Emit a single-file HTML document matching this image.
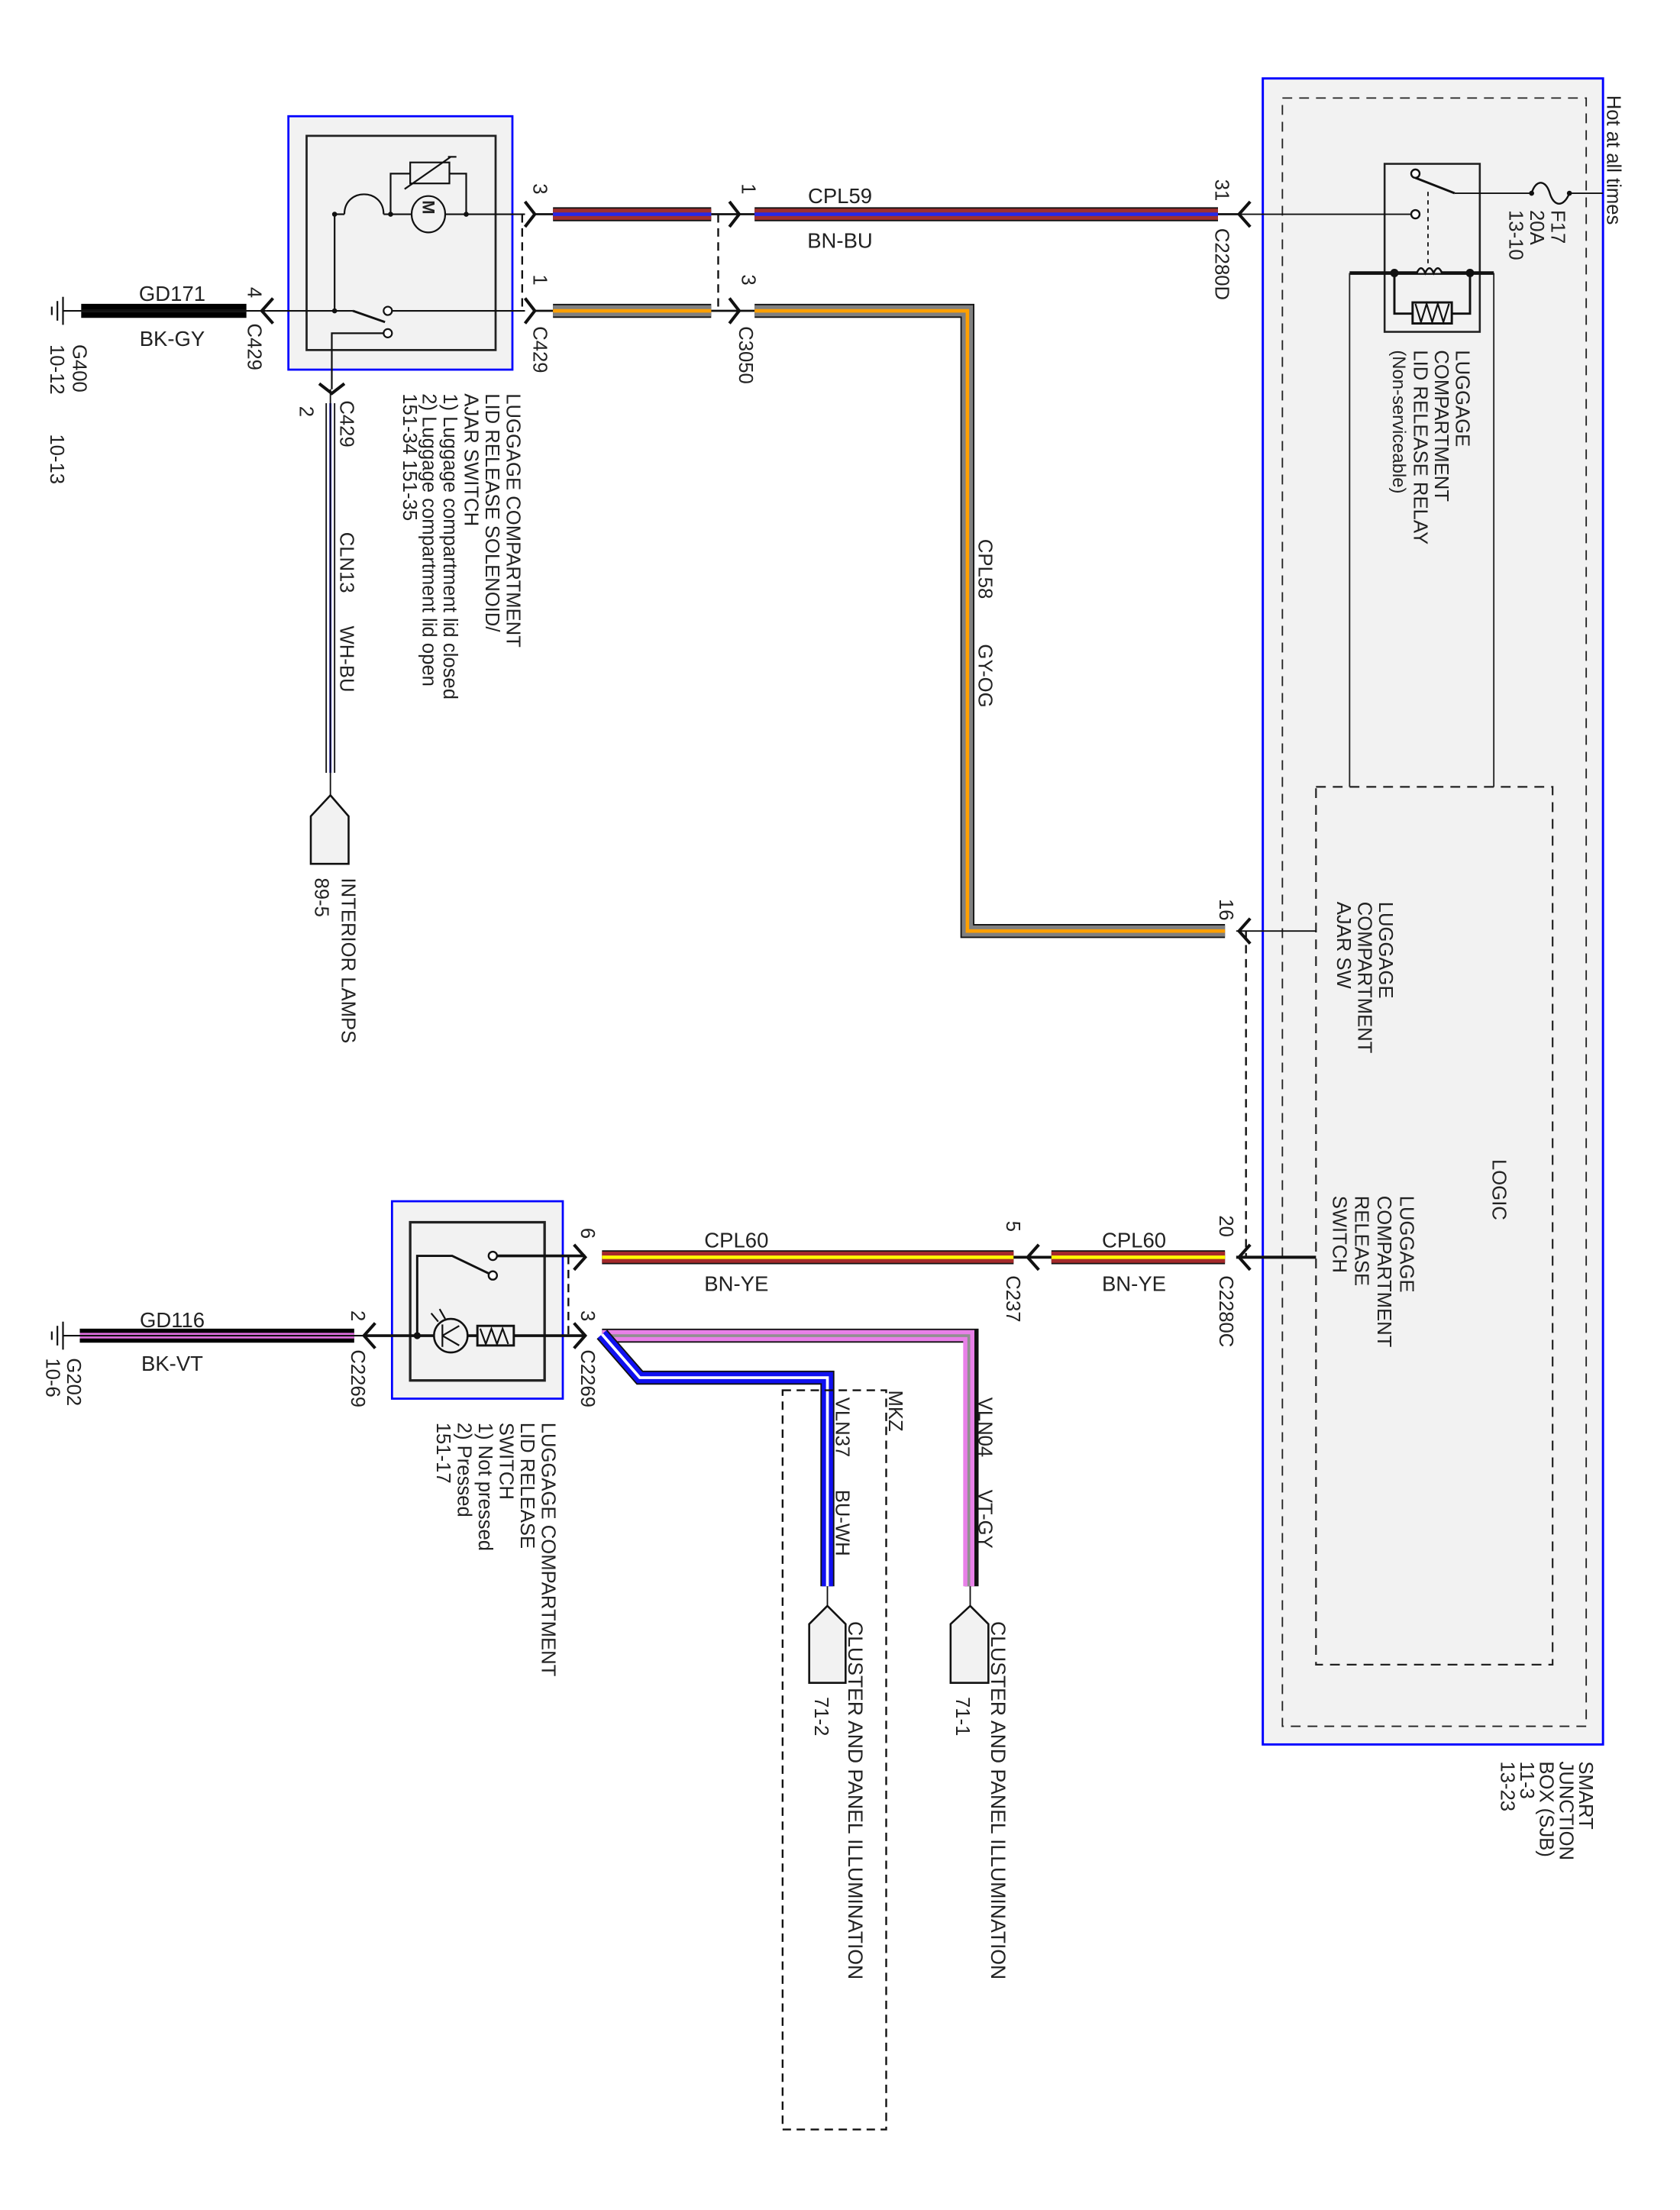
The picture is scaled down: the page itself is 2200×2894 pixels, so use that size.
<!DOCTYPE html>
<html><head><meta charset="utf-8"><style>
html,body{margin:0;padding:0;background:#fff}
svg{display:block}
text{font-family:"Liberation Sans",Arial,sans-serif;fill:#222}
</style></head><body>
<svg width="2200" height="2894" viewBox="0 0 1200 1578.5" xmlns="http://www.w3.org/2000/svg">
<rect width="1200" height="1578.5" fill="#fff"/>

<!-- SJB -->
<rect x="902" y="56" width="243" height="1190" fill="#f2f2f2" stroke="#0000ff" stroke-width="1.6"/>
<rect x="916" y="70" width="217" height="1163" fill="none" stroke="#222" stroke-width="1" stroke-dasharray="7,5"/>
<rect x="940" y="562" width="169" height="627" fill="none" stroke="#222" stroke-width="1.2" stroke-dasharray="7,5"/>
<!-- relay -->
<rect x="989" y="117" width="68" height="120" fill="none" stroke="#222" stroke-width="1.4"/>
<line x1="964" y1="195" x2="1067" y2="195" stroke="#111" stroke-width="2.5"/>
<line x1="964" y1="195" x2="964" y2="562" stroke="#222" stroke-width="1"/>
<line x1="1067" y1="195" x2="1067" y2="562" stroke="#222" stroke-width="1"/>
<circle cx="996" cy="195" r="3" fill="#111"/><circle cx="1050" cy="195" r="3" fill="#111"/>
<path d="M1012 195 q3 -7 6 0 q3 -7 6 0 q3 -7 6 0" fill="#f2f2f2" stroke="#111" stroke-width="1.4"/>
<path d="M996 195 V224 H1050 V195" fill="none" stroke="#111" stroke-width="1.6"/>
<rect x="1009" y="216" width="28" height="15" fill="#f2f2f2" stroke="#111" stroke-width="1.6"/>
<path d="M1011 217 l4 13 l4 -13 l4 13 l4 -13 l4 13 l4 -13" fill="none" stroke="#111" stroke-width="1.2"/>
<circle cx="1011" cy="124" r="3" fill="#fff" stroke="#111" stroke-width="1.3"/>
<line x1="1011" y1="127" x2="1039" y2="138" stroke="#111" stroke-width="1.6"/>
<circle cx="1011" cy="153" r="3" fill="#fff" stroke="#111" stroke-width="1.3"/>
<line x1="1020" y1="137" x2="1020" y2="190" stroke="#111" stroke-width="1" stroke-dasharray="3,3"/>
<line x1="1039" y1="138" x2="1094" y2="138" stroke="#111" stroke-width="1"/>
<path d="M1094 138 c3 -10 10 -10 13 0 c3 10 10 10 14 0" fill="none" stroke="#111" stroke-width="1.3"/>
<circle cx="1094" cy="138" r="1.8" fill="#111"/><circle cx="1121" cy="138" r="1.8" fill="#111"/>
<line x1="1121" y1="138" x2="1145" y2="138" stroke="#111" stroke-width="1"/>
<line x1="883" y1="153" x2="1008" y2="153" stroke="#111" stroke-width="1"/>
<line x1="883" y1="665" x2="940" y2="665" stroke="#111" stroke-width="1"/>
<line x1="883" y1="898" x2="940" y2="898" stroke="#111" stroke-width="2.2"/>
<line x1="890" y1="665" x2="890" y2="898" stroke="#111" stroke-width="1.3" stroke-dasharray="6,4"/>

<!-- SJB texts -->
<g font-size="14">
<text transform="translate(1148,68) rotate(90)">Hot at all times</text>
<text transform="translate(1108,150) rotate(90)">F17</text>
<text transform="translate(1093,150) rotate(90)">20A</text>
<text transform="translate(1078,150) rotate(90)">13-10</text>
<text transform="translate(1040,250) rotate(90)">LUGGAGE</text>
<text transform="translate(1025,250) rotate(90)">COMPARTMENT</text>
<text transform="translate(1010,250) rotate(90)">LID RELEASE RELAY</text>
<text transform="translate(995,250) rotate(90)" font-size="13">(Non-serviceable)</text>
<text transform="translate(985,644) rotate(90)">LUGGAGE</text>
<text transform="translate(970,644) rotate(90)">COMPARTMENT</text>
<text transform="translate(955,644) rotate(90)">AJAR SW</text>
<text transform="translate(1066,828) rotate(90)">LOGIC</text>
<text transform="translate(1000,854) rotate(90)">LUGGAGE</text>
<text transform="translate(984,854) rotate(90)">COMPARTMENT</text>
<text transform="translate(968,854) rotate(90)">RELEASE</text>
<text transform="translate(952,854) rotate(90)">SWITCH</text>
<text transform="translate(1128,1258) rotate(90)">SMART</text>
<text transform="translate(1114,1258) rotate(90)">JUNCTION</text>
<text transform="translate(1100,1258) rotate(90)">BOX (SJB)</text>
<text transform="translate(1086,1258) rotate(90)">11-3</text>
<text transform="translate(1072,1258) rotate(90)">13-23</text>
</g>

<!-- TOP COMPONENT -->
<rect x="206" y="83" width="160" height="181" fill="#f2f2f2" stroke="#0000ff" stroke-width="1.5"/>
<rect x="219" y="97" width="135" height="153" fill="none" stroke="#222" stroke-width="1.5"/>
<g stroke="#111" stroke-width="1.2" fill="none">
<line x1="239" y1="153" x2="239" y2="222"/>
<line x1="239" y1="153" x2="246" y2="153"/>
<path d="M246 153 C246 134 274 134 274 153"/>
<line x1="274" y1="153" x2="375" y2="153"/>
<path d="M279 153 V124 H293 M321 124 H333 V153"/>
<rect x="293" y="116" width="28" height="15"/>
<line x1="289" y1="135" x2="322" y2="112"/>
<line x1="320" y1="112" x2="326" y2="112"/>
<ellipse cx="306" cy="153" rx="12" ry="13" fill="#f2f2f2"/>
<line x1="190" y1="222" x2="252" y2="222"/>
<line x1="252" y1="222" x2="275" y2="230" stroke-width="1.6"/>
<line x1="280" y1="222" x2="375" y2="222"/>
<path d="M277 238 H237 V278"/>
</g>
<circle cx="239" cy="153" r="1.8" fill="#111"/><circle cx="279" cy="153" r="1.8" fill="#111"/><circle cx="333" cy="153" r="1.8" fill="#111"/>
<circle cx="239" cy="222" r="1.8" fill="#111"/>
<circle cx="277" cy="222" r="3" fill="#fff" stroke="#111" stroke-width="1.2"/>
<circle cx="277" cy="238" r="3" fill="#fff" stroke="#111" stroke-width="1.2"/>
<text transform="translate(302,148) rotate(90)" font-size="12" font-weight="bold" text-anchor="middle">M</text>

<!-- connectors -->
<g stroke="#111" stroke-width="2.2" fill="none">
<path d="M375 144 L382 153 L375 162"/>
<path d="M521 144 L528 153 L521 162"/>
<path d="M375 213 L382 222 L375 231"/>
<path d="M521 213 L528 222 L521 231"/>
<path d="M893 144 L885 153 L893 162"/>
<path d="M893 656 L885 665 L893 674"/>
<path d="M893 889 L885 898 L893 907"/>
<path d="M742 889 L734 898 L742 907"/>
<path d="M410 889 L418 898 L410 907"/>
<path d="M410 945 L418 954 L410 963"/>
<path d="M268 945 L260 954 L268 963"/>
<path d="M195 213 L187 222 L195 231"/>
<path d="M228 274 L237 281 L246 274"/>
</g>
<line x1="382" y1="153" x2="395" y2="153" stroke="#111" stroke-width="1.5"/>
<line x1="382" y1="222" x2="395" y2="222" stroke="#111" stroke-width="1.5"/>
<line x1="508" y1="153" x2="539" y2="153" stroke="#111" stroke-width="1.5"/>
<line x1="508" y1="222" x2="539" y2="222" stroke="#111" stroke-width="1.5"/>
<line x1="870" y1="153" x2="885" y2="153" stroke="#111" stroke-width="1.5"/>
<line x1="373" y1="153" x2="373" y2="222" stroke="#111" stroke-width="1.3" stroke-dasharray="6,4"/>
<line x1="513" y1="153" x2="513" y2="222" stroke="#111" stroke-width="1.3" stroke-dasharray="6,4"/>

<!-- colored wires -->
<g fill="none" stroke-linejoin="miter">
<path d="M395 153 H508 M539 153 H870" stroke="#111" stroke-width="10"/>
<path d="M395 153 H508 M539 153 H870" stroke="#a03030" stroke-width="8"/>
<path d="M395 153 H508 M539 153 H870" stroke="#2828e8" stroke-width="2.5"/>
<path d="M395 222 H508" stroke="#111" stroke-width="10"/>
<path d="M395 222 H508" stroke="#808080" stroke-width="8"/>
<path d="M395 222 H508" stroke="#ffa000" stroke-width="2.5"/>
<path d="M539 222 H691 V665 H875" stroke="#111" stroke-width="10"/>
<path d="M539 222 H691 V665 H875" stroke="#808080" stroke-width="8"/>
<path d="M539 222 H691 V665 H875" stroke="#ffa000" stroke-width="2.5"/>
<path d="M58 222 H176" stroke="#000" stroke-width="10"/>
<path d="M58 222 H176" stroke="#888" stroke-width="1.3"/>
<line x1="45" y1="222" x2="190" y2="222" stroke="#111" stroke-width="1.2"/>
<path d="M236 288 V552" stroke="#111" stroke-width="7"/>
<path d="M236 288 V552" stroke="#fff" stroke-width="5"/>
<path d="M236 288 V552" stroke="#2020f0" stroke-width="1.5"/>
<line x1="236" y1="278" x2="236" y2="568" stroke="#111" stroke-width="1"/>
<path d="M430 898 H724 M751 898 H875" stroke="#111" stroke-width="10"/>
<path d="M430 898 H724 M751 898 H875" stroke="#a52a2a" stroke-width="8"/>
<path d="M430 898 H724 M751 898 H875" stroke="#ffff00" stroke-width="2.5"/>
<line x1="724" y1="898" x2="751" y2="898" stroke="#111" stroke-width="2"/>
<path d="M57 954 H253" stroke="#000" stroke-width="10"/>
<path d="M57 954 H253" stroke="#e070e0" stroke-width="4"/>
<line x1="45" y1="954" x2="260" y2="954" stroke="#111" stroke-width="1.2"/>
<path d="M430 954 H694 V1133" stroke="#111" stroke-width="10"/>
<path d="M430 954 H692 V1133" stroke="#e880e8" stroke-width="8"/>
<path d="M430 954 H692 V1133" stroke="#909090" stroke-width="2"/>
<path d="M430 953 L457 984 H591 V1133" stroke="#111" stroke-width="10"/>
<path d="M430 953 L457 984 H591 V1133" stroke="#1010f0" stroke-width="8"/>
<path d="M430 953 L457 984 H591 V1133" stroke="#fff" stroke-width="2"/>
</g>
<line x1="693" y1="1133" x2="693" y2="1148" stroke="#111" stroke-width="1"/>
<line x1="591" y1="1133" x2="591" y2="1148" stroke="#111" stroke-width="1"/>

<!-- grounds -->
<g stroke="#111" stroke-width="1.2">
<line x1="45" y1="212" x2="45" y2="232"/><line x1="41" y1="215" x2="41" y2="229"/><line x1="37" y1="219" x2="37" y2="225"/>
<line x1="45" y1="944" x2="45" y2="964"/><line x1="41" y1="947" x2="41" y2="961"/><line x1="37" y1="951" x2="37" y2="957"/>
</g>

<!-- bottom component -->
<rect x="280" y="858" width="122" height="141" fill="#f2f2f2" stroke="#0000ff" stroke-width="1.5"/>
<rect x="293" y="873" width="96" height="113" fill="none" stroke="#222" stroke-width="1.8"/>
<g stroke="#111" fill="none">
<path d="M298 954 V897 H323 L350 910" stroke-width="1.6"/>
<line x1="352" y1="897" x2="418" y2="897" stroke-width="2"/>
<line x1="260" y1="954" x2="418" y2="954" stroke-width="2"/>
<circle cx="322" cy="954" r="12" fill="#f2f2f2" stroke-width="1.4"/>
<path d="M316 946 V962 M316 954 L328 947 M316 954 L328 961" stroke-width="1.2"/>
<path d="M313 944 l-5 -6 M318 942 l-4 -7" stroke-width="1.2"/>
<rect x="341" y="947" width="26" height="14" fill="#f2f2f2" stroke-width="1.6"/>
<path d="M343 949 l4 11 l4 -11 l4 11 l4 -11 l4 11" stroke-width="1.2"/>
</g>
<circle cx="298" cy="954" r="2.5" fill="#111"/>
<circle cx="352" cy="897" r="3" fill="#fff" stroke="#111" stroke-width="1.3"/>
<circle cx="352" cy="911" r="3" fill="#fff" stroke="#111" stroke-width="1.3"/>
<line x1="406" y1="897" x2="406" y2="954" stroke="#111" stroke-width="1.3" stroke-dasharray="6,4"/>

<rect x="559" y="993" width="74" height="528" fill="none" stroke="#111" stroke-width="1.3" stroke-dasharray="6,4"/>

<g fill="#f2f2f2" stroke="#111" stroke-width="1.4">
<path d="M236 568 L249 583 V617 H222 V583 Z"/>
<path d="M693 1147 L706 1160 V1202 H679 V1160 Z"/>
<path d="M591 1147 L604 1160 V1202 H578 V1160 Z"/>
</g>

<g font-size="15" text-anchor="middle">
<text x="600" y="145">CPL59</text>
<text x="600" y="177">BN-BU</text>
<text x="123" y="215">GD171</text>
<text x="123" y="247">BK-GY</text>
<text x="526" y="891">CPL60</text>
<text x="526" y="922">BN-YE</text>
<text x="810" y="891">CPL60</text>
<text x="810" y="922">BN-YE</text>
<text x="123" y="948">GD116</text>
<text x="123" y="979">BK-VT</text>
</g>

<g font-size="14">
<text transform="translate(381,131) rotate(90)">3</text>
<text transform="translate(381,196) rotate(90)">1</text>
<text transform="translate(381,233) rotate(90)">C429</text>
<text transform="translate(530,131) rotate(90)">1</text>
<text transform="translate(530,196) rotate(90)">3</text>
<text transform="translate(528,233) rotate(90)">C3050</text>
<text transform="translate(868,128) rotate(90)">31</text>
<text transform="translate(868,163) rotate(90)">C2280D</text>
<text transform="translate(871,642) rotate(90)">16</text>
<text transform="translate(871,868) rotate(90)">20</text>
<text transform="translate(871,911) rotate(90)">C2280C</text>
<text transform="translate(719,872) rotate(90)">5</text>
<text transform="translate(719,911) rotate(90)">C237</text>
<text transform="translate(415,877) rotate(90)">6</text>
<text transform="translate(415,936) rotate(90)">3</text>
<text transform="translate(415,964) rotate(90)">C2269</text>
<text transform="translate(251,936) rotate(90)">2</text>
<text transform="translate(251,964) rotate(90)">C2269</text>
<text transform="translate(48,970) rotate(90)">G202</text>
<text transform="translate(33,970) rotate(90)">10-6</text>
<text transform="translate(52,246) rotate(90)">G400</text>
<text transform="translate(36,246) rotate(90)">10-12</text>
<text transform="translate(36,310) rotate(90)">10-13</text>
<text transform="translate(177,205) rotate(90)">4</text>
<text transform="translate(177,231) rotate(90)">C429</text>
<text transform="translate(214,290) rotate(90)">2</text>
<text transform="translate(243,286) rotate(90)">C429</text>
<text transform="translate(243,380) rotate(90)">CLN13</text>
<text transform="translate(243,447) rotate(90)">WH-BU</text>
<text transform="translate(699,385) rotate(90)">CPL58</text>
<text transform="translate(699,460) rotate(90)">GY-OG</text>
<text transform="translate(362,281) rotate(90)">LUGGAGE COMPARTMENT</text>
<text transform="translate(347,281) rotate(90)">LID RELEASE SOLENOID/</text>
<text transform="translate(332,281) rotate(90)">AJAR SWITCH</text>
<text transform="translate(317,281) rotate(90)">1) Luggage compartment lid closed</text>
<text transform="translate(302,281) rotate(90)">2) Luggage compartment lid open</text>
<text transform="translate(288,281) rotate(90)">151-34    151-35</text>
<text transform="translate(225,627) rotate(90)">89-5</text>
<text transform="translate(244,627) rotate(90)">INTERIOR LAMPS</text>
<text transform="translate(387,1016) rotate(90)">LUGGAGE COMPARTMENT</text>
<text transform="translate(372,1016) rotate(90)">LID RELEASE</text>
<text transform="translate(357,1016) rotate(90)">SWITCH</text>
<text transform="translate(342,1016) rotate(90)">1) Not pressed</text>
<text transform="translate(327,1016) rotate(90)">2) Pressed</text>
<text transform="translate(312,1016) rotate(90)">151-17</text>
<text transform="translate(699,998) rotate(90)">VLN04</text>
<text transform="translate(699,1064) rotate(90)">VT-GY</text>
<text transform="translate(597,998) rotate(90)">VLN37</text>
<text transform="translate(597,1064) rotate(90)">BU-WH</text>
<text transform="translate(635,993) rotate(90)">MKZ</text>
<text transform="translate(708,1158) rotate(90)" font-size="14.5">CLUSTER AND PANEL ILLUMINATION</text>
<text transform="translate(606,1158) rotate(90)" font-size="14.5">CLUSTER AND PANEL ILLUMINATION</text>
<text transform="translate(683,1212) rotate(90)">71-1</text>
<text transform="translate(582,1212) rotate(90)">71-2</text>
</g>
</svg>
</body></html>
